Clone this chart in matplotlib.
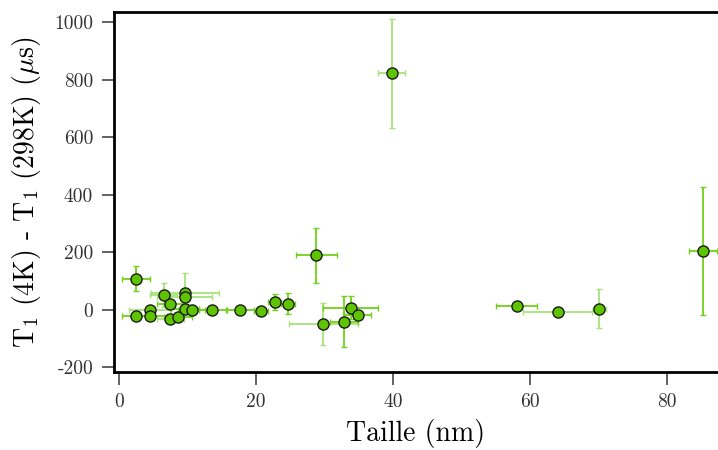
import matplotlib
matplotlib.use('Agg')
import matplotlib.pyplot as plt
import numpy as np

# data
taille = [2.5, 2.5, 4.5, 4.5, 6.5, 7.5, 7.5, 8.6, 9.6, 9.6, 9.6, 10.6, 13.6, 17.7,
          20.7, 22.7, 24.7, 28.8, 29.8, 32.8, 33.8, 34.8, 39.8, 58.0, 64.0, 70.1, 85.2]
taille_err = [2, 2, 3, 2.5, 2, 2, 2, 2, 5, 4, 2, 2, 2, 2,
              1, 1, 1, 3, 5, 2, 4, 2, 2, 3, 5, 1, 2]
delta_t1 = [108, -21, -1, -21, 52, 18, -32, -24, 57, 43, 3, -1, -1, -1,
            -6, 28, 20, 189, -50, -42, 6, -18, 822, 13, -7, 3, 204]
delta_t1_err = [44, 10, 8, 8, 42, 10, 10, 8, 70, 25, 8, 6, 4, 4,
                4, 28, 37, 95, 73, 89, 40, 10, 190, 4, 4, 68, 222]
# lighter error bars for some points
light = [0, 0, 1, 0, 1, 0, 1, 0, 1, 1, 0, 0, 0, 0,
         0, 0, 0, 0, 1, 0, 0, 0, 1, 0, 1, 1, 0]

yticks = [-200, 0, 200, 400, 600, 800, 1000]
xticks = [0, 20, 40, 60, 80]

plt.rcParams['font.family'] = ['cmr10', 'DejaVu Serif']
plt.rcParams['mathtext.fontset'] = 'cm'
plt.rcParams['axes.unicode_minus'] = False

fig = plt.figure(figsize=(7.18, 4.5), dpi=100)
ax = fig.add_axes([114/718, 78/450, 1 - 114/718, 360/450])

for i in range(len(taille)):
    ecol = '#a6e37a' if light[i] else '#72d11a'
    ax.errorbar(taille[i], delta_t1[i], xerr=taille_err[i], yerr=delta_t1_err[i],
                fmt='o', ms=8, mfc='#5ec400', mec='#1a1a1a', mew=1.0,
                ecolor=ecol, elinewidth=1.3, capsize=2.5, capthick=1.2, zorder=3)

ax.set_xlim(-0.73, 87.4)
ax.set_ylim(-217, 1035)

ax.set_xticks(xticks)
ax.set_xticklabels([str(v) for v in xticks])
ax.set_yticks(yticks)
ax.set_yticklabels([str(v) for v in yticks])

for s in ['left', 'top', 'bottom']:
    ax.spines[s].set_linewidth(2)
ax.spines['right'].set_visible(False)

ax.tick_params(axis='both', direction='out', length=9, width=1.3, color='#555555',
               labelsize=14, labelcolor='#333333', pad=6)

ax.set_xlabel('Taille (nm)', fontsize=20, labelpad=6)
ax.set_ylabel(r'T$_1$ (4K) - T$_1$ (298K) ($\mu$s)', fontsize=20, labelpad=8)

fig.savefig('out.png', dpi=100)
